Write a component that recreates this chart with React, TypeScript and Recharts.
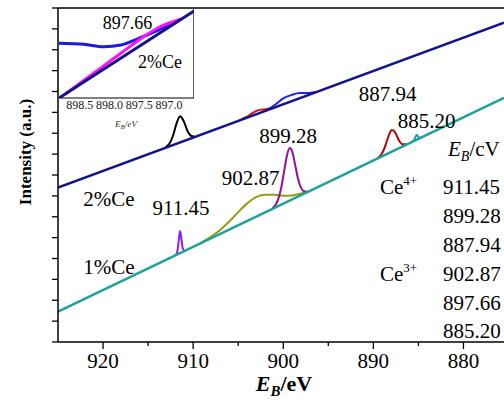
import React from 'react';
import { LineChart, Line, XAxis, YAxis, ReferenceLine } from 'recharts';

// [E_B (eV), intensity (a.u.)]
const base2 = [[925, 7.4], [875.5, 15.3]];
const base1 = [[925, 1.45], [875.5, 11.7]];

// 2%Ce components
const black2 = [[913.05, 9.33], [912.65, 9.49], [912.25, 9.87], [911.85, 10.46], [911.45, 10.82], [911.05, 10.59], [910.65, 10.13], [910.25, 9.88], [909.85, 9.84]];
const red2 = [[904.67, 10.66], [904.07, 10.78], [903.47, 10.95], [902.87, 11.09], [902.27, 11.14], [901.67, 11.17], [901.07, 11.23]];
const blue2 = [[901.7, 11.13], [900.8, 11.4], [900.0, 11.67], [899.1, 11.83], [898.2, 11.93], [897.6, 11.93], [896.9, 11.94], [896.4, 11.98]];

// 1%Ce components
const violet1 = [[911.95, 4.15], [911.75, 4.35], [911.6, 4.86], [911.45, 5.32], [911.3, 4.93], [911.15, 4.48], [910.95, 4.36]];
const olive1 = [[909, 4.78], [908, 5.05], [907, 5.37], [906, 5.77], [905, 6.22], [904, 6.64], [903, 6.94], [902, 7.05], [901, 7.05], [900, 7.01], [899, 7.02], [898, 7.12], [897, 7.25]];
const purple1 = [[901.2, 6.41], [900.78, 6.62], [900.48, 6.94], [900.18, 7.49], [899.88, 8.24], [899.58, 8.95], [899.28, 9.29], [898.98, 9.08], [898.68, 8.49], [898.38, 7.86], [898.08, 7.44], [897.78, 7.24], [897.38, 7.2]];
const darkred1 = [[889.54, 8.81], [889.14, 8.97], [888.84, 9.21], [888.54, 9.57], [888.24, 9.95], [887.94, 10.16], [887.64, 10.08], [887.34, 9.82], [887.04, 9.58], [886.74, 9.47], [886.34, 9.47]];
const cyan1 = [[885.7, 9.59], [885.45, 9.7], [885.3, 9.85], [885.2, 9.93], [885.1, 9.89], [884.95, 9.8], [884.7, 9.8]];

// inset (zoom on 897.66, 2%Ce)
const insetNavy = [[898.85, 0], [896.58, 96.7]];
const insetMagenta = [[898.73, 5.0], [898.48, 17.3], [898.15, 33.2], [897.81, 49.7], [897.48, 65.6], [897.15, 79.2], [896.95, 84.4], [896.78, 88.2]];
const insetBlue = [[898.85, 60.8], [898.43, 59.7], [898.1, 57.0], [897.81, 58.9], [897.6, 63.7], [897.37, 70.0], [897.2, 74.8], [897.06, 79.4], [896.95, 84.4]];

const xTicks = [920, 915, 910, 905, 900, 895, 890, 885, 880];
const yTicks = [0, 1, 2, 3, 4, 5, 6, 7, 8, 9, 10, 11, 12, 13, 14, 15, 16];
const insetTicks = [898.5, 898.0, 897.5, 897.0];

const ce4 = ['911.45', '899.28', '887.94'];
const ce3 = ['902.87', '897.66', '885.20'];

const toPts = (arr: number[][]) => arr.map(([e, v]) => ({ e, v }));

const serif = '"Liberation Serif", "Times New Roman", serif';

const XTick = (props: any) => {
  const { x, y, payload } = props;
  const major = payload.value % 10 === 0;
  return (
    <g>
      <line x1={x} x2={x} y1={y} y2={y + (major ? 7 : 4)} stroke="#000" strokeWidth={1.3} />
      {major && (
        <text x={x} y={y + 26} textAnchor="middle" fontFamily={serif} fontSize={21} fill="#000">
          {payload.value}
        </text>
      )}
    </g>
  );
};

const YTick = (props: any) => {
  const { x, y } = props;
  return <line x1={x - 6} x2={x} y1={y} y2={y} stroke="#000" strokeWidth={1.3} />;
};

const InsetTick = (props: any) => {
  const { x, y, payload } = props;
  return (
    <text x={x} y={y + 11} textAnchor="middle" fontFamily={serif} fontSize={12} fill="#222">
      {payload.value.toFixed(1)}
    </text>
  );
};

const peak = (data: number[][], color: string, w = 2) => (
  <Line
    data={toPts(data)}
    dataKey="v"
    type="monotone"
    stroke={color}
    strokeWidth={w}
    dot={false}
    activeDot={false}
    isAnimationActive={false}
  />
);

export default function App() {
  return (
    <div style={{ position: 'absolute', left: 0, top: 0, width: 504, height: 405, background: '#fff', overflow: 'hidden' }}>
      <div style={{ position: 'absolute', left: 0, top: 0 }}>
        <LineChart width={504} height={405} margin={{ top: 8, right: 0, bottom: 0, left: 0 }}>
          <XAxis
            type="number"
            dataKey="e"
            domain={[875.5, 925]}
            reversed
            allowDataOverflow
            ticks={xTicks}
            interval={0}
            height={63}
            tickLine={false}
            tickSize={0}
            tickMargin={0}
            tick={<XTick />}
            axisLine={{ stroke: '#000', strokeWidth: 1.5 }}
          />
          <YAxis
            type="number"
            domain={[0, 16]}
            allowDataOverflow
            ticks={yTicks}
            interval={0}
            width={58}
            tickLine={false}
            tickSize={0}
            tickMargin={0}
            tick={<YTick />}
            axisLine={{ stroke: '#000', strokeWidth: 1.5 }}
          />
          <ReferenceLine y={16} stroke="#000" strokeWidth={1.5} />
          {peak(black2, '#000000')}
          {peak(red2, '#e01010')}
          {peak(blue2, '#2020e8')}
          {peak(olive1, '#9a9a10')}
          {peak(purple1, '#901098')}
          {peak(violet1, '#8a1cf0')}
          {peak(darkred1, '#a00c0c')}
          {peak(cyan1, '#2a96b8')}
          <Line data={toPts(base2)} dataKey="v" type="linear" stroke="#14148a" strokeWidth={2.5} dot={false} activeDot={false} isAnimationActive={false} />
          <Line data={toPts(base1)} dataKey="v" type="linear" stroke="#21a09a" strokeWidth={2.5} dot={false} activeDot={false} isAnimationActive={false} />
        </LineChart>
      </div>

      <div style={{ position: 'absolute', left: 59, top: 9 }}>
        <div style={{ position: 'absolute', left: 0, top: 0, width: 135, height: 89, background: '#fff' }} />
        <div style={{ position: 'absolute', left: 0, top: 0 }}>
          <LineChart width={135} height={117} margin={{ top: 0, right: 0, bottom: 0, left: 0 }}>
            <XAxis
              type="number"
              dataKey="e"
              domain={[896.58, 898.85]}
              reversed
              allowDataOverflow
              ticks={insetTicks}
              interval={0}
              height={28}
              tickLine={false}
              tickSize={0}
              tickMargin={0}
              tick={<InsetTick />}
              axisLine={{ stroke: '#000', strokeWidth: 1 }}
            />
            <YAxis hide type="number" domain={[0, 98.9]} allowDataOverflow />
            <ReferenceLine x={896.58} stroke="#000" strokeWidth={1.2} />
            {peak(insetBlue, '#1a1ae0', 3)}
            {peak(insetMagenta, '#ff10ff', 3)}
            <Line data={toPts(insetNavy)} dataKey="v" type="linear" stroke="#14148a" strokeWidth={3} dot={false} activeDot={false} isAnimationActive={false} />
          </LineChart>
        </div>
      </div>

      <svg width={504} height={405} style={{ position: 'absolute', left: 0, top: 0, pointerEvents: 'none' }} fontFamily={serif} fill="#000">
        <text transform="rotate(-90 31 152)" x={31} y={152} textAnchor="middle" fontWeight="bold" fontSize={17}>
          Intensity (a.u.)
        </text>
        <text x={284} y={391} textAnchor="middle" fontWeight="bold" fontSize={22}>
          <tspan fontStyle="italic">E</tspan>
          <tspan fontStyle="italic" fontSize={15} dy={5}>B</tspan>
          <tspan dy={-5}>/eV</tspan>
        </text>

        <text x={127.5} y={29} textAnchor="middle" fontSize={18}>897.66</text>
        <text x={160} y={67.5} textAnchor="middle" fontSize={18}>2%Ce</text>
        <text x={126} y={127} textAnchor="middle" fontSize={9} fontStyle="italic" fill="#333">
          E<tspan fontSize={7} dy={2}>B</tspan><tspan dy={-2}>/eV</tspan>
        </text>

        <text x={387.5} y={101} textAnchor="middle" fontSize={21}>887.94</text>
        <text x={426.7} y={128} textAnchor="middle" fontSize={21}>885.20</text>
        <text x={288} y={142.5} textAnchor="middle" fontSize={21}>899.28</text>
        <text x={250.5} y={185} textAnchor="middle" fontSize={21}>902.87</text>
        <text x={181} y={215} textAnchor="middle" fontSize={21}>911.45</text>
        <text x={109} y={206} textAnchor="middle" fontSize={21}>2%Ce</text>
        <text x={109} y={274} textAnchor="middle" fontSize={21}>1%Ce</text>

        <text x={448} y={156} fontSize={21}>
          <tspan fontStyle="italic">E</tspan>
          <tspan fontStyle="italic" fontSize={14} dy={5}>B</tspan>
          <tspan dy={-5}>/cV</tspan>
        </text>
        <text x={380} y={194} fontSize={21}>
          Ce<tspan fontSize={13} dy={-9}>4+</tspan>
        </text>
        <text x={380} y={281} fontSize={21}>
          Ce<tspan fontSize={13} dy={-9}>3+</tspan>
        </text>
        {ce4.map((t, i) => (
          <text key={t} x={443} y={194 + i * 29} fontSize={21}>{t}</text>
        ))}
        {ce3.map((t, i) => (
          <text key={t} x={443} y={281 + i * 28.5} fontSize={21}>{t}</text>
        ))}
      </svg>
    </div>
  );
}
